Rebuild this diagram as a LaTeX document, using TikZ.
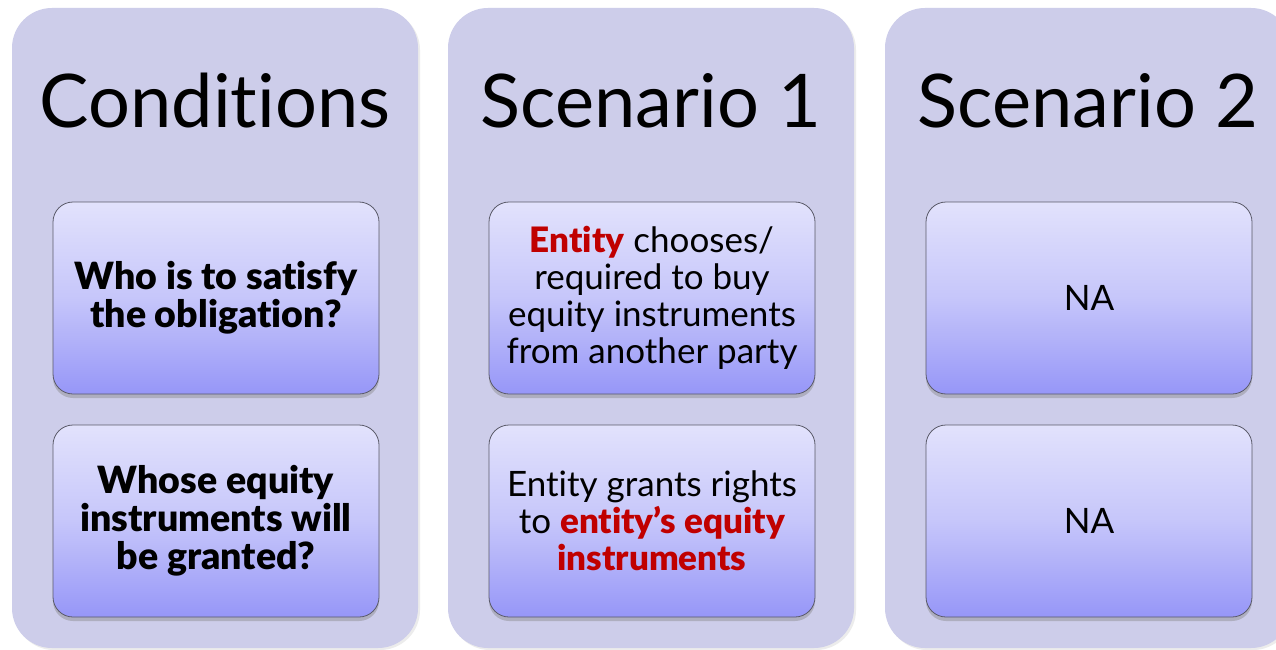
\documentclass[tikz,border=0pt]{standalone}
\usepackage{fontspec}
\setmainfont{Lato}[Ligatures=NoCommon, BoldFont={Lato Black}]
\usetikzlibrary{shadows}
\usetikzlibrary{positioning}

\definecolor{panelfill}{RGB}{205,205,234}
\definecolor{cardtop}{RGB}{226,226,252}
\definecolor{cardmid}{RGB}{198,198,250}
\definecolor{cardbot}{RGB}{150,150,248}
\definecolor{cardline}{RGB}{90,90,105}
\definecolor{entred}{RGB}{192,0,0}

\tikzset{
  panel/.style={fill=panelfill, rounded corners=40pt, minimum width=406pt, minimum height=640pt,
    drop shadow={shadow xshift=2pt, shadow yshift=-2pt, opacity=0.15}},
  paneltitle/.style={anchor=base, font=\fontsize{74}{78}\selectfont},
  card/.style={draw=cardline, line width=0.8pt, rounded corners=20pt, minimum width=326pt, minimum height=192pt,
    top color=cardtop, bottom color=cardbot, middle color=cardmid, align=center,
    font=\fontsize{35}{37}\selectfont,
    drop shadow={shadow xshift=0pt, shadow yshift=-4pt, opacity=0.4}},
  boldcard/.style={card, font=\fontsize{37.5}{38}\selectfont\bfseries},
}

\begin{document}
\begin{tikzpicture}[x=1pt, y=-1pt]
    \path[use as bounding box, fill=white] (0,0) rectangle (1276,650);
    \clip (0,0) rectangle (1276,650);

    % the three panels
    \node[panel] (cond) at (215,328) {};
    \node[panel] (scen1) at (651,328) {};
    \node[panel] (scen2) at (1088,328) {};

    \node[paneltitle] (condT) at (215,128) {Conditions};
    \node[paneltitle] (scen1T) at (651,128) {Scenario 1};
    \node[paneltitle] (scen2T) at (1088,128) {Scenario 2};

    % conditions
    \node[boldcard] (cond1) at (216,298) {Who is to satisfy\\the obligation?};
    \node[boldcard] (cond2) at (216,521) {Whose equity\\instruments will\\be granted?};

    % scenario 1
    \node[card] (scen1a) at (652,298) {\textcolor{entred}{\bfseries Entity} chooses/\\required to buy\\equity instruments\\from another party};
    \node[card] (scen1b) at (652,521) {Entity grants rights\\to \textcolor{entred}{\bfseries entity’s equity}\\\textcolor{entred}{\bfseries instruments}};

    % scenario 2
    \node[card] (scen2a) at (1089,298) {NA};
    \node[card] (scen2b) at (1089,521) {NA};
\end{tikzpicture}
\end{document}
